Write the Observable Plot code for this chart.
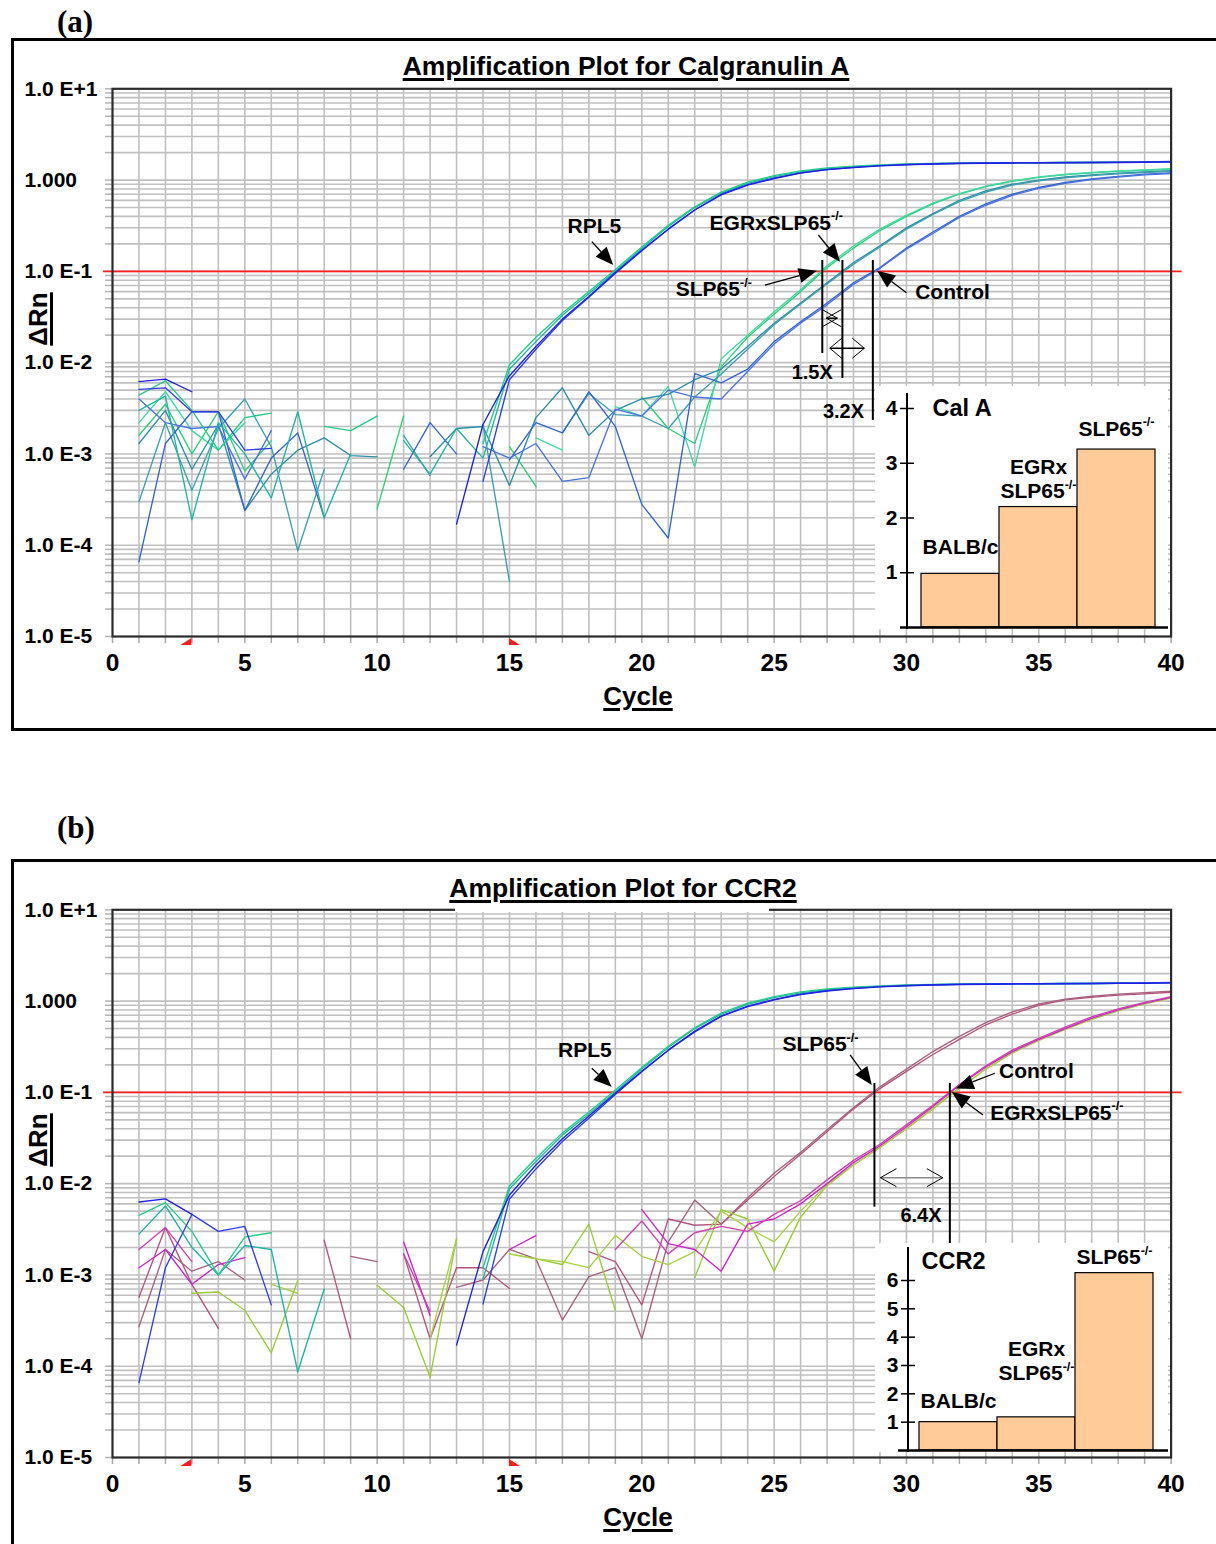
<!DOCTYPE html>
<html>
<head>
<meta charset="utf-8">
<script src="https://cdn.jsdelivr.net/npm/d3@7"></script>
<script src="https://cdn.jsdelivr.net/npm/@observablehq/plot@0.6"></script>
<style>
  html, body { margin: 0; padding: 0; background: #fff; }
  #page { position: relative; width: 1216px; height: 1544px; overflow: hidden; font-family: "Liberation Sans", Arial, Helvetica, sans-serif; color: #000; }
  .frame { position: absolute; border: 3.5px solid #000; box-sizing: border-box; }
  .letter { position: absolute; font-family: "Liberation Serif", "Times New Roman", serif; font-weight: bold; font-size: 31px; line-height: 1; }
  .title { position: absolute; font-weight: bold; font-size: 26.5px; line-height: 1; white-space: nowrap; transform: translateX(-50%); text-decoration: underline; text-decoration-thickness: 2.5px; text-underline-offset: 3px; }
  .axlab { position: absolute; font-weight: bold; font-size: 26px; line-height: 1; white-space: nowrap; text-decoration: underline; text-decoration-thickness: 3px; text-underline-offset: 3px; }
  .patch { position: absolute; background: #fff; }
  g[aria-label="ul-text"] text, g[aria-label="boxed-ul"] text { text-decoration: underline; text-decoration-thickness: 2.5px; }
</style>
</head>
<body>
<div id="page"></div>
<script>
// ---------------- shared axis data ----------------
const cycles = d3.range(1, 41);
const threshold = [0.1];
const xLabelTicks = d3.range(0, 41, 5);
const yLabelValues = [10, 1, 0.1, 0.01, 0.001, 0.0001, 0.00001];
const yLabelTexts = ["1.0 E+1", "1.000", "1.0 E-1", "1.0 E-2", "1.0 E-3", "1.0 E-4", "1.0 E-5"];
const baselineRange = [3, 15];

// ---------------- panel (a): Calgranulin A, ΔRn per cycle 1..40 ----------------
const a_rpl5_1 = [6.2e-3, 6.6e-3, 4.8e-3, null, null, null, null, null, null, null, null, null, 1.7e-4, 2.1e-3,
  0.0072, 0.015, 0.030, 0.053, 0.097, 0.17, 0.29, 0.47, 0.69, 0.88, 1.04, 1.19, 1.3, 1.37, 1.43, 1.47, 1.5, 1.52, 1.53, 1.54, 1.55, 1.55, 1.56, 1.56, 1.57, 1.58];
const a_rpl5_2 = [5.1e-3, 5.3e-3, 2.9e-3, 2.9e-3, 1.1e-3, 1.15e-3, null, null, null, null, null, null, null, 5e-4,
  0.0065, 0.014, 0.029, 0.052, 0.095, 0.168, 0.29, 0.47, 0.70, 0.89, 1.05, 1.2, 1.3, 1.38, 1.44, 1.48, 1.51, 1.53, 1.54, 1.55, 1.55, 1.56, 1.56, 1.57, 1.58, 1.6];
const a_rpl5_3 = [4.4e-3, 6.3e-3, 3e-3, 1.1e-3, 2.5e-3, 2.8e-3, null, 2e-3, 1.8e-3, 2.6e-3, null, null, null, 1.3e-3,
  0.0095, 0.019, 0.035, 0.060, 0.105, 0.185, 0.32, 0.51, 0.74, 0.95, 1.12, 1.26, 1.36, 1.42, 1.47, 1.5, 1.52, 1.53, 1.54, 1.55, 1.55, 1.56, 1.56, 1.57, 1.57, 1.58];
const a_rpl5_4 = [3e-3, 4.3e-3, 1.9e-4, 2.2e-3, 1e-3, 3.3e-4, 2.9e-3, 2e-4, 1e-3, null, 1.4e-3, 6e-4, 1.9e-3, 9e-4,
  0.0085, 0.017, 0.033, 0.057, 0.1, 0.178, 0.31, 0.5, 0.72, 0.92, 1.09, 1.23, 1.33, 1.4, 1.45, 1.49, 1.51, 1.53, 1.54, 1.55, 1.55, 1.56, 1.56, 1.57, 1.57, 1.58];
const a_slp_1 = [1.6e-3, 3.5e-3, 1e-3, 2.9e-3, 6.5e-4, 1.4e-3, null, null, null, 2.5e-4, 2.6e-3, null, null, null, 1.2e-3, 4.4e-4, null, null, null, 4.2e-3, 1.9e-3, 1.3e-3,
  0.009, 0.019, 0.034, 0.06, 0.11, 0.18, 0.28, 0.4, 0.55, 0.7, 0.85, 0.97, 1.07, 1.15, 1.2, 1.25, 1.28, 1.32];
const a_slp_2 = [2.2e-3, 4.8e-3, 1.8e-3, 1.1e-3, 2.2e-3, null, null, null, null, null, null, null, null, null, null, 1.5e-3, 1.1e-3, null, 3.3e-3, 2.6e-3, 5.5e-3, 7.2e-4,
  0.011, 0.02, 0.036, 0.063, 0.115, 0.19, 0.29, 0.41, 0.56, 0.71, 0.86, 0.98, 1.08, 1.15, 1.21, 1.26, 1.29, 1.33];
const a_egr_1 = [1.3e-3, 3e-3, 6.8e-4, 2.1e-3, 2.4e-4, 6e-4, 1.1e-3, 1.5e-3, 9.6e-4, 9.3e-4, null, 9.3e-4, 1.9e-3, 2e-3, 4.5e-4, 2.5e-3, 5.3e-3, 1.6e-3, 3e-3, 4e-3, 4.5e-3, 6.5e-3,
  0.0085, 0.015, 0.027, 0.045, 0.075, 0.125, 0.19, 0.3, 0.43, 0.6, 0.76, 0.9, 1.0, 1.08, 1.14, 1.19, 1.23, 1.27];
const a_egr_2 = [3e-4, 2.2e-3, 4e-4, 1.9e-3, 4e-3, 1.2e-3, 8.7e-5, 6.8e-4, null, null, 1.6e-3, 5.8e-4, null, 2.1e-3, 4e-5, null, 1.7e-3, 4.6e-3, 2.7e-3, 2.6e-3, 1.9e-3, 4.2e-3,
  0.0075, 0.014, 0.026, 0.044, 0.073, 0.12, 0.185, 0.29, 0.42, 0.58, 0.74, 0.88, 0.98, 1.06, 1.12, 1.17, 1.21, 1.25];
const a_ctl_1 = [6.6e-5, 1.3e-3, 2.9e-3, 2.9e-3, 2.4e-4, 9e-4, 1.7e-3, 2e-4, null, null, 6.8e-4, 2.2e-3, 1e-3, null, 8.6e-4, 2.2e-3, 1.7e-3, 4.8e-3, 2e-3, 2.8e-4, 1.2e-4, 7.6e-3,
  6e-3, 0.0085, 0.017, 0.028, 0.045, 0.075, 0.11, 0.18, 0.27, 0.4, 0.55, 0.7, 0.83, 0.94, 1.03, 1.1, 1.16, 1.2];
const a_ctl_2 = [4e-3, 2.2e-3, 1.9e-3, 2e-3, 5.3e-4, 1.8e-3, null, null, null, null, null, null, null, 1.2e-3, 9e-4, 1.3e-3, 5e-4, 5.5e-4, 3.1e-3, 2.6e-3, 5e-3, 4.2e-3,
  4e-3, 8e-3, 0.016, 0.027, 0.043, 0.072, 0.108, 0.175, 0.26, 0.39, 0.53, 0.68, 0.81, 0.92, 1.01, 1.08, 1.14, 1.18];
const wellsA = [a_slp_1, a_slp_2, a_egr_1, a_egr_2, a_ctl_1, a_ctl_2, a_rpl5_4, a_rpl5_3, a_rpl5_2, a_rpl5_1];
const colorsA = ["#2fcf78", "#3fd9a5", "#2a8fa6", "#3d9fb0", "#3366cc", "#4a73df", "#1db5a2", "#22cc88", "#3040e0", "#1f1fe6"];

const ctA = [26.82, 27.58, 28.73];
const labelsA = [
  {text: "RPL5", x: 18.21, y: 0.31},
  {text: "EGRxSLP65-/-", x: 25.08, y: 0.339},
  {text: "SLP65-/-", x: 22.72, y: 0.0634},
  {text: "Control", x: 31.74, y: 0.0592}
];
const ratiosA = [{text: "1.5X", x: 26.44, y: 0.0077}, {text: "3.2X", x: 27.62, y: 0.00294}];
const arrowsA = [
  {x1: 18.13, y1: 0.209, x2: 18.94, y2: 0.116},
  {x1: 26.69, y1: 0.247, x2: 27.51, y2: 0.126},
  {x1: 24.67, y1: 0.070, x2: 26.63, y2: 0.1},
  {x1: 30.02, y1: 0.0577, x2: 28.91, y2: 0.1}
];
const ctLinesA = [
  {ct: ctA[0], y1: 0.1315, y2: 0.0126},
  {ct: ctA[1], y1: 0.1315, y2: 0.0067},
  {ct: ctA[2], y1: 0.1315, y2: 0.00233}
];
const spansA = [
  {x1: ctA[0], x2: ctA[1], y: 0.0303, inset: 4.5, L: 15, W: 8.5, shaft: "#000"},
  {x1: ctA[0], x2: ctA[2], y: 0.0142, inset: 8, L: 12, W: 10, shaft: "#000"}
];
const insetCatsA = ["BALB/c", "EGRx\nSLP65-/-", "SLP65-/-"];
const insetValsA = [0.98, 2.2, 3.25];
const insetTicksA = [1, 2, 3, 4];

// ---------------- panel (b): CCR2 ----------------
const b_rpl5_1 = [6.3e-3, 6.8e-3, 4.6e-3, null, null, null, null, null, null, null, null, null, 1.7e-4, 1.8e-3,
  0.0075, 0.016, 0.031, 0.055, 0.098, 0.17, 0.29, 0.46, 0.68, 0.87, 1.03, 1.18, 1.29, 1.37, 1.43, 1.47, 1.5, 1.52, 1.53, 1.54, 1.55, 1.55, 1.56, 1.57, 1.57, 1.58];
const b_rpl5_2 = [6.6e-5, 1.2e-3, 4.6e-3, 3e-3, 3.4e-3, 4.7e-4, null, null, null, null, null, null, null, 4.8e-4,
  0.0068, 0.0145, 0.029, 0.052, 0.095, 0.168, 0.29, 0.47, 0.69, 0.88, 1.04, 1.19, 1.3, 1.38, 1.44, 1.48, 1.51, 1.53, 1.54, 1.55, 1.55, 1.56, 1.56, 1.57, 1.58, 1.6];
const b_rpl5_3 = [4.5e-3, 6.2e-3, 3e-3, 1e-3, 2.6e-3, 2.9e-3, null, null, null, null, null, null, null, 1.2e-3,
  0.0095, 0.019, 0.036, 0.061, 0.106, 0.187, 0.32, 0.51, 0.74, 0.95, 1.12, 1.26, 1.36, 1.42, 1.47, 1.5, 1.52, 1.53, 1.54, 1.55, 1.55, 1.56, 1.56, 1.57, 1.57, 1.58];
const b_rpl5_4 = [2.8e-3, 5.7e-3, 2e-3, 1e-3, 2.1e-3, 1.9e-3, 8.7e-5, 7e-4, null, null, null, null, null, 9e-4,
  0.0088, 0.0175, 0.034, 0.058, 0.101, 0.18, 0.31, 0.5, 0.72, 0.92, 1.09, 1.23, 1.33, 1.4, 1.45, 1.49, 1.51, 1.53, 1.54, 1.55, 1.55, 1.56, 1.56, 1.57, 1.57, 1.58];
const b_slp_1 = [5.7e-4, 3.3e-3, 7.9e-4, 2.6e-4, null, null, null, 2.4e-3, 2e-4, null, 1.7e-3, 2e-4, 1.2e-3, 1.2e-3, 7.1e-4, null, null, 1.8e-3, 1.4e-3, 4.7e-4, 4.1e-3,
  3.5e-3, 3.6e-3, 6.6e-3, 0.012, 0.021, 0.037, 0.066, 0.11, 0.17, 0.26, 0.38, 0.55, 0.72, 0.9, 1.03, 1.1, 1.16, 1.2, 1.25];
const b_slp_2 = [2.7e-4, 1.9e-3, 1.1e-3, 1.4e-3, 8.8e-4, null, null, null, 1.6e-3, 1.4e-3, null, null, 7.3e-4, 8.8e-4, 1.9e-3, 1.5e-3, 3.2e-4, 9.6e-4, 1.2e-3, 2e-4, 2.3e-3,
  6.6e-3, 3.6e-3, 7e-3, 0.013, 0.022, 0.039, 0.068, 0.115, 0.18, 0.28, 0.41, 0.58, 0.76, 0.93, 1.05, 1.13, 1.19, 1.24, 1.28];
const b_ctl_1 = [1.2e-3, 1.9e-3, 7.9e-4, 1.3e-3, 1.55e-3, null, null, null, null, null, 2.3e-3, 3.6e-4, null, null, 1.9e-3, 2.7e-3, null, null, null, 5.2e-3, 2.2e-3, 1.9e-3,
  1.1e-3, 3.6e-3, 4.1e-3, 6e-3, 0.01, 0.017, 0.026, 0.042, 0.07, 0.12, 0.19, 0.28, 0.38, 0.5, 0.65, 0.8, 0.95, 1.1];
const b_ctl_2 = [1.9e-3, 3.3e-3, 1.4e-3, null, null, null, null, null, null, null, 1.7e-3, 4e-4, null, null, null, 2.3e-3, null, null, 1.9e-3, 3.9e-3, 1.7e-3, 2.9e-3,
  3.4e-3, 3e-3, 4.6e-3, 6.5e-3, 0.011, 0.018, 0.027, 0.044, 0.072, 0.122, 0.195, 0.29, 0.39, 0.52, 0.67, 0.82, 0.97, 1.12];
const b_egr_1 = [null, null, 6.3e-4, 6.5e-4, 4.1e-4, 1.4e-4, 8.7e-4, null, null, 7.7e-4, 4.4e-4, 7.6e-5, 2.5e-3, null, 1.7e-3, 1.5e-3, 1.3e-3, 3.6e-3, 4.1e-4, null, null, 9.3e-4, 5.2e-3, 4.1e-3,
  1.1e-3, 4.3e-3, 0.0095, 0.016, 0.025, 0.04, 0.066, 0.11, 0.18, 0.27, 0.37, 0.49, 0.63, 0.78, 0.93, 1.08];
const b_egr_2 = [null, null, null, null, null, 7.9e-4, 6.3e-4, null, null, null, null, 2e-4, 2.5e-3, null, 1.7e-3, 1.5e-3, 1.4e-3, 1.2e-3, 2.7e-3, 1.6e-3, 1.3e-3, 1.8e-3, 5e-3, 3.3e-3,
  2.3e-3, 5e-3, 0.0098, 0.016, 0.025, 0.04, 0.067, 0.112, 0.18, 0.27, 0.37, 0.5, 0.64, 0.79, 0.94, 1.1];
const wellsB = [b_slp_1, b_slp_2, b_egr_1, b_egr_2, b_ctl_1, b_ctl_2, b_rpl5_4, b_rpl5_3, b_rpl5_2, b_rpl5_1];
const colorsB = ["#b5537f", "#a8607e", "#99cc33", "#a9d144", "#cc22cc", "#d040b4", "#1db5a2", "#22cc88", "#3040e0", "#1f1fe6"];

const ctB = [28.79, 31.64];
const labelsB = [
  {text: "RPL5", x: 17.85, y: 0.286},
  {text: "SLP65-/-", x: 26.75, y: 0.335},
  {text: "Control", x: 34.91, y: 0.170},
  {text: "EGRxSLP65-/-", x: 35.68, y: 0.0594}
];
const ratiosB = [{text: "6.4X", x: 30.55, y: 0.00449}];
const arrowsB = [
  {x1: 18.13, y1: 0.181, x2: 18.88, y2: 0.114},
  {x1: 27.89, y1: 0.254, x2: 28.71, y2: 0.119},
  {x1: 33.36, y1: 0.16, x2: 31.88, y2: 0.109},
  {x1: 32.91, y1: 0.0558, x2: 31.73, y2: 0.1}
];
const ctLinesB = [
  {ct: ctB[0], y1: 0.125, y2: 0.00553},
  {ct: ctB[1], y1: 0.125, y2: 0.0021}
];
const spansB = [
  {x1: ctB[0], x2: ctB[1], y: 0.01148, inset: 6.5, L: 16, W: 9, shaft: "#8a8a8a"}
];
const insetCatsB = ["BALB/c", "EGRx\nSLP65-/-", "SLP65-/-"];
const insetValsB = [1.0, 1.17, 6.26];
const insetTicksB = [1, 2, 3, 4, 5, 6];

// ---------------- helpers ----------------
const FONT = "'Liberation Sans', Arial, Helvetica, sans-serif";

function baselineMarker(range) {
  return (index, scales, values, dims) => {
    const g = d3.create("svg:g").attr("aria-label", "baseline-markers").attr("fill", "#ff1a1a");
    const yb = dims.height - dims.marginBottom;
    const xs = scales.x(range[0]), xe = scales.x(range[1]);
    g.append("path").attr("d", `M${xs},${yb + 2}V${yb + 9}H${xs - 11}Z`);
    g.append("path").attr("d", `M${xe},${yb + 2}V${yb + 9}H${xe + 11}Z`);
    return g.node();
  };
}

function pointerArrows(list) {
  return (index, scales) => {
    const g = d3.create("svg:g").attr("aria-label", "pointer-arrows");
    for (const a of list) {
      const x1 = scales.x(a.x1), y1 = scales.y(a.y1), x2 = scales.x(a.x2), y2 = scales.y(a.y2);
      const ang = Math.atan2(y2 - y1, x2 - x1), L = 18, W = 7.5;
      const c = Math.cos(ang), s = Math.sin(ang);
      const bx = x2 - L * c, by = y2 - L * s;
      g.append("line").attr("x1", x1).attr("y1", y1).attr("x2", bx).attr("y2", by)
        .attr("stroke", "#000").attr("stroke-width", 1.3);
      g.append("path").attr("d", `M${x2},${y2}L${bx - W * s},${by + W * c}L${bx + W * s},${by - W * c}Z`).attr("fill", "#000");
    }
    return g.node();
  };
}

function spanArrows(list) {
  return (index, scales) => {
    const g = d3.create("svg:g").attr("aria-label", "ratio-arrows").attr("fill", "none");
    for (const d of list) {
      const yy = scales.y(d.y), xa = scales.x(d.x1) + d.inset, xb = scales.x(d.x2) - d.inset;
      g.append("line").attr("x1", xa).attr("x2", xb).attr("y1", yy).attr("y2", yy)
        .attr("stroke", d.shaft).attr("stroke-width", 1.5);
      g.append("path")
        .attr("d", `M${xa + d.L},${yy - d.W}L${xa},${yy}L${xa + d.L},${yy + d.W}M${xb - d.L},${yy - d.W}L${xb},${yy}L${xb - d.L},${yy + d.W}`)
        .attr("stroke", "#000").attr("stroke-width", 1);
    }
    return g.node();
  };
}

function ampPlot(wells, colors, labels, ratios, arrows, ctLines, spans) {
  const rows = wells.flatMap((w, i) => w.map((v, j) => ({well: i, cycle: cycles[j], v, color: colors[i]})));
  const xGrid = d3.range(1, 40);
  const yTicksAll = d3.scaleLog().domain([1e-5, 10]).ticks();
  const yGrid = yTicksAll.filter(t => t > 1.5e-5 && t < 9.5);
  return Plot.plot({
    width: 1216, height: 680,
    marginLeft: 112, marginRight: 45.4, marginTop: 48.3, marginBottom: 84,
    x: {domain: [0, 40]},
    y: {type: "log", domain: [1e-5, 10]},
    color: {type: "identity"},
    style: {fontFamily: FONT, fontWeight: "bold", fontSize: "21px", color: "#000", background: "transparent", overflow: "visible"},
    marks: [
      Plot.ruleX(xGrid, {stroke: "#c0c0c0", strokeWidth: 1.6}),
      Plot.ruleY(yGrid, {stroke: "#c0c0c0", strokeWidth: 1.6}),
      Plot.axisY({ticks: yTicksAll, tickSize: 7, tickFormat: () => "", label: null, stroke: "#b3b3b3", strokeWidth: 1.5}),
      Plot.axisX({ticks: d3.range(0, 41), tickSize: 7, tickFormat: () => "", label: null, stroke: "#a8a8a8", strokeWidth: 1.5}),
      Plot.axisX({ticks: xLabelTicks, tickSize: 0, tickPadding: 17, fontSize: 24.5, label: null}),
      Plot.text(yLabelValues, {y: d => d, text: (d, i) => yLabelTexts[i], frameAnchor: "left", dx: -88, textAnchor: "start", fontSize: 21}),
      Plot.ruleY(threshold, {stroke: "#ff1f1f", strokeWidth: 1.7, insetLeft: -9, insetRight: -11}),
      Plot.line(rows, {x: "cycle", y: "v", z: "well", stroke: "color", strokeWidth: 1.35}),
      Plot.frame({stroke: "#2b2b2b", strokeWidth: 2.2}),
      baselineMarker(baselineRange),
      Plot.text(labels, {x: "x", y: "y", text: "text", fontSize: 21, ariaLabel: "boxed-ul"}),
      Plot.text(ratios, {x: "x", y: "y", text: "text", fontSize: 20, ariaLabel: "boxed"}),
      Plot.ruleX(ctLines, {x: "ct", y1: "y1", y2: "y2", stroke: "#000", strokeWidth: 2}),
      pointerArrows(arrows),
      spanArrows(spans)
    ]
  });
}

function insetPlot(cats, vals, ticks, title, labelDy, cfg) {
  const axisLine = (index, scales, values, dims) =>
    d3.create("svg:line")
      .attr("x1", dims.marginLeft).attr("x2", dims.marginLeft)
      .attr("y1", dims.marginTop).attr("y2", dims.height - dims.marginBottom + 3)
      .attr("stroke", "#000").attr("stroke-width", 2).node();
  return Plot.plot({
    width: cfg.w, height: cfg.h,
    marginLeft: cfg.ml, marginRight: 0, marginTop: cfg.mt, marginBottom: cfg.mb,
    x: {type: "band", domain: cats, padding: 0, insetLeft: cfg.il, insetRight: cfg.ir, axis: null},
    y: {domain: [0, ticks[ticks.length - 1]], insetTop: cfg.it},
    style: {fontFamily: FONT, fontWeight: "bold", fontSize: "21px", color: "#000", background: "#fff"},
    marks: [
      Plot.barY(vals, {x: (d, i) => cats[i], y: d => d, fill: "#ffcc99", stroke: "#000", strokeWidth: 1.2}),
      Plot.ruleY([0], {stroke: "#000", strokeWidth: 2.6, insetLeft: cfg.bl}),
      axisLine,
      Plot.axisY({ticks, tickFormat: d => String(d), tickSize: 14, dx: 7, tickPadding: 3, fontSize: 21, label: null, stroke: "#000", strokeWidth: 1.5}),
      Plot.text([title], {frameAnchor: "top-left", dx: cfg.tdx, dy: cfg.tdy, textAnchor: "start", lineAnchor: "middle", fontSize: 23.5, ariaLabel: "ul-text"}),
      ...cats.map((c, i) => Plot.text([i], {x: d => cats[d], y: d => vals[d], text: d => cats[d], dy: labelDy[i], lineAnchor: "bottom", fontSize: 21, lineHeight: 1.15}))
    ]
  });
}

// ---------------- page assembly ----------------
const page = document.getElementById("page");
function addDiv(cls, text, style) {
  const d = document.createElement("div");
  d.className = cls;
  if (text) d.textContent = text;
  Object.assign(d.style, style);
  page.appendChild(d);
  return d;
}
function addNode(node, left, top, w, h) {
  const wrap = document.createElement("div");
  wrap.style.cssText = `position:absolute;left:${left}px;top:${top}px;width:${w}px;height:${h}px;`;
  wrap.appendChild(node);
  page.appendChild(wrap);
}

// panel (a)
addDiv("frame", "", {left: "11px", top: "38px", width: "1230px", height: "693px"});
addDiv("letter", "(a)", {left: "57px", top: "6px"});
addDiv("title", "Amplification Plot for Calgranulin A", {left: "626px", top: "52.6px"});
addNode(ampPlot(wellsA, colorsA, labelsA, ratiosA, arrowsA, ctLinesA, spansA), 0, 40, 1216, 680);
addDiv("axlab", "ΔRn", {left: "38px", top: "319px", transform: "translate(-50%,-50%) rotate(-90deg)"});
addDiv("axlab", "Cycle", {left: "638px", top: "683px", transform: "translateX(-50%)"});
addNode(insetPlot(insetCatsA, insetValsA, insetTicksA, "Cal A", [-20, -9, -14],
  {w: 293, h: 243, ml: 32, mt: 7, mb: 2, il: 13, ir: 13, it: 15, bl: -7, tdx: 25, tdy: 15}), 875, 386, 293, 243);

// panel (b)
addDiv("frame", "", {left: "11px", top: "859px", width: "1230px", height: "720px"});
addDiv("letter", "(b)", {left: "57px", top: "812px"});
addDiv("title", "Amplification Plot for CCR2", {left: "623px", top: "875px"});
addNode(ampPlot(wellsB, colorsB, labelsB, ratiosB, arrowsB, ctLinesB, spansB), 0, 861, 1216, 680);
addDiv("patch", "", {left: "455px", top: "905px", width: "314px", height: "7px"});
addDiv("axlab", "ΔRn", {left: "38px", top: "1140px", transform: "translate(-50%,-50%) rotate(-90deg)"});
addDiv("axlab", "Cycle", {left: "638px", top: "1504px", transform: "translateX(-50%)"});
addNode(insetPlot(insetCatsB, insetValsB, insetTicksB, "CCR2", [-14, -37, -9],
  {w: 293, h: 209, ml: 33, mt: 4, mb: 2, il: 11, ir: 15, it: 33, bl: -10, tdx: 13, tdy: 14}), 875, 1243, 293, 209);

// ---------------- post-processing: superscripts and label boxes ----------------
const NS = "http://www.w3.org/2000/svg";
page.querySelectorAll("text, tspan").forEach(n => {
  for (const c of [...n.childNodes]) {
    if (c.nodeType === 3 && c.nodeValue.includes("-/-")) {
      const parts = c.nodeValue.split("-/-");
      c.nodeValue = parts[0];
      const s = document.createElementNS(NS, "tspan");
      s.setAttribute("dy", "-0.75em");
      s.setAttribute("font-size", "0.6em");
      s.textContent = "-/-";
      n.insertBefore(s, c.nextSibling);
    }
  }
});
page.querySelectorAll('g[aria-label="boxed-ul"], g[aria-label="boxed"]').forEach(g => {
  g.querySelectorAll(":scope > text").forEach(t => {
    const b = t.getBBox();
    const r = document.createElementNS(NS, "rect");
    r.setAttribute("x", b.x - 9);
    r.setAttribute("y", b.y - 4);
    r.setAttribute("width", b.width + 18);
    r.setAttribute("height", b.height + 9);
    r.setAttribute("fill", "#fff");
    const tr = t.getAttribute("transform");
    if (tr) r.setAttribute("transform", tr);
    g.insertBefore(r, t);
  });
});
</script>
</body>
</html>
